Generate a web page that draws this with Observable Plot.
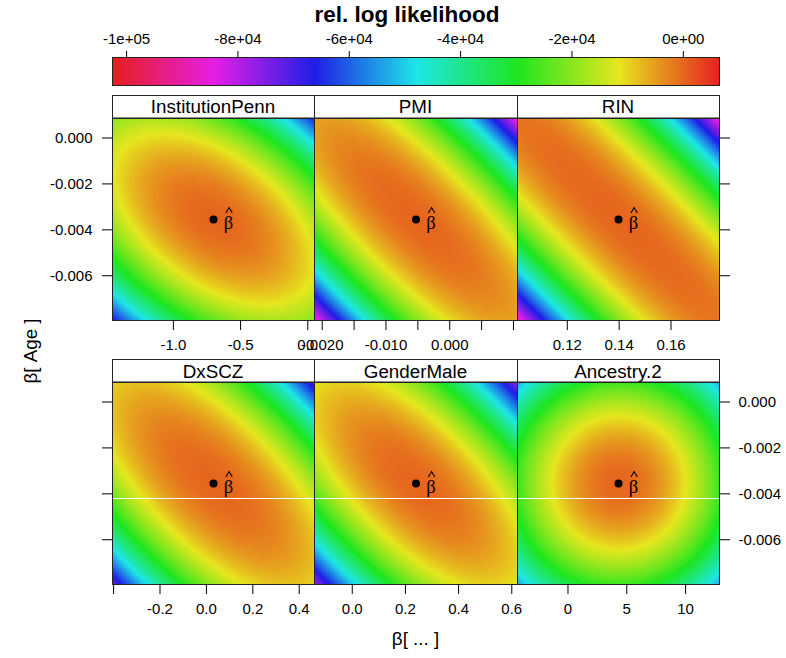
<!DOCTYPE html>
<html>
<head>
<meta charset="utf-8">
<script src="https://cdn.jsdelivr.net/npm/d3@7"></script>
<script src="https://cdn.jsdelivr.net/npm/@observablehq/plot@0.6"></script>
<style>
  html, body { margin: 0; padding: 0; background: #fff; }
  #chart { position: relative; width: 786px; height: 658px; overflow: hidden;
           font-family: "Liberation Sans", Arial, sans-serif; background: #fff; }
  #chart > svg { position: absolute; }
</style>
</head>
<body>
<div id="chart"></div>
<script>
// ---------------- data ----------------
const panelNames = ["InstitutionPenn", "PMI", "RIN", "DxSCZ", "GenderMale", "Ancestry.2"];
// estimate of each coefficient (x position of beta-hat)
const estX = [-0.7015, -0.00529, 0.13975, 0.03055, 0.23975, 4.295];
// estimate of beta[Age] (y position of beta-hat)
const estAge = -0.00355;
// x range of each panel
const xMin = [-1.453, -0.02121, 0.1008, -0.4047, -0.142, -4.29];
const xMax = [0.050, 0.01063, 0.1787, 0.4658, 0.6215, 12.88];
// y range shared by all panels
const yMin = -0.00795;
const yMax = 0.00085;
// shape of the relative log likelihood surface in each panel, read from the
// colour bands (u, v = offsets from beta-hat in units of the panel half-ranges):
// rel.logLik = -lvlScale * (cXX*u^2 + 2*cXY*u*v + cYY*v^2) ^ power
const lvlScale = 11675;
const curvXX = [1.408, 1.733, 1.7125, 1.5175, 1.736, 2.30];
const curvXY = [0.842, 1.467, 1.6375, 1.0825, 1.236, 0.0];
const curvYY = [1.924, 1.733, 1.7125, 1.5175, 1.736, 2.30];
const curvPower = [1.08, 1.085, 1.066, 1.107, 1.06, 1.0];
// tick values and labels
const xTicks = [
  [-1, -0.5, 0],
  [-0.02, -0.015, -0.01, -0.005, 0, 0.005, 0.01],
  [0.12, 0.14, 0.16],
  [-0.4, -0.2, 0, 0.2, 0.4],
  [0, 0.2, 0.4, 0.6],
  [0, 5, 10]
];
const xTickLabels = [
  ["-1.0", "-0.5", "0.0"],
  ["-0.020", "", "-0.010", "", "0.000", "", ""],
  ["0.12", "0.14", "0.16"],
  ["", "-0.2", "0.0", "0.2", "0.4"],
  ["0.0", "0.2", "0.4", "0.6"],
  ["0", "5", "10"]
];
const yTicks = [0, -0.002, -0.004, -0.006];
const yTickLabels = ["0.000", "-0.002", "-0.004", "-0.006"];
const colorDomain = [-102530, 6500];
const colorTicks = [-100000, -80000, -60000, -40000, -20000, 0];
const colorTickLabels = ["-1e+05", "-8e+04", "-6e+04", "-4e+04", "-2e+04", "0e+00"];
// thin white line visible across the lower row of panels
const artifactY = -0.004203;
const titleText = "rel. log likelihood";
const xTitle = "β[ ... ]";
const yTitle = "β[ Age ]";
const estLabel = "β";

// ---------------- layout ----------------
const FONT = '"Liberation Sans", Arial, sans-serif';
const SERIF = '"Liberation Serif", "DejaVu Serif", serif';
const colEdges = [112, 314, 517, 719];
const rowTop = [118, 382];
const stripTop = [95.5, 359.5];
const stripBase = [113.3, 378];
const panelH = 202;

function hueColor(t) {
  const h = (1 - t) * 360;
  const v = 0.9, s = 0.87, c = v * s, m = v - c;
  const hp = (((h % 360) + 360) % 360) / 60;
  const x = c * (1 - Math.abs((hp % 2) - 1));
  const k = Math.floor(hp) % 6;
  const [r, g, b] = [[c, x, 0], [x, c, 0], [0, c, x], [0, x, c], [x, 0, c], [c, 0, x]][k];
  return `rgb(${Math.round((r + m) * 255)},${Math.round((g + m) * 255)},${Math.round((b + m) * 255)})`;
}
const colorOpts = {type: "linear", domain: colorDomain, interpolate: hueColor, clamp: true};
const baseStyle = {background: "none", overflow: "visible", maxWidth: "none", fontFamily: FONT, fontSize: "15px", color: "black"};
// circumflex accent drawn as a small symbol above the beta
const hatSymbol = {
  draw(ctx) {
    ctx.moveTo(-3.2, 2.8);
    ctx.lineTo(0, -2.8);
    ctx.lineTo(3.2, 2.8);
  }
};

const chart = document.getElementById("chart");

// ---------- colour key ----------
{
  const mL = colEdges[0], mR = 786 - colEdges[3];
  const key = Plot.plot({
    width: 786, height: 85,
    marginLeft: mL, marginRight: mR, marginTop: 57, marginBottom: 0,
    x: {domain: colorDomain, axis: null, label: null},
    y: {domain: [0, 1], axis: null, label: null},
    color: colorOpts,
    style: baseStyle,
    marks: [
      Plot.raster({fill: (x, y) => x, x1: colorDomain[0], x2: colorDomain[1], y1: 0, y2: 1,
                   width: 607, height: 1, imageRendering: "pixelated"}),
      Plot.frame({stroke: "#222"}),
      Plot.axisX({anchor: "top", ticks: colorTicks,
                  tickFormat: d => colorTickLabels[colorTicks.indexOf(d)] ?? "",
                  tickSize: 7, tickPadding: 7, fontSize: 15, label: null})
    ]
  });
  key.style.left = "0px"; key.style.top = "0px";
  chart.appendChild(key);
}

// ---------- panels ----------
panelNames.forEach((name, i) => {
  const col = i % 3, row = Math.floor(i / 3);
  const w = colEdges[col + 1] - colEdges[col];
  const mL = 70, mR = 75, mT = 2, mB = 45;
  const hx = (xMax[i] - xMin[i]) / 2, hy = (yMax - yMin) / 2;
  const surface = (x, y) => {
    const u = (x - estX[i]) / hx, v = (y - estAge) / hy;
    const q = curvXX[i] * u * u + 2 * curvXY[i] * u * v + curvYY[i] * v * v;
    return -lvlScale * Math.pow(q, curvPower[i]);
  };
  const fmtX = d => xTickLabels[i][xTicks[i].indexOf(d)] ?? "";
  const fmtY = d => yTickLabels[yTicks.indexOf(d)] ?? "";
  const est = [{x: estX[i], y: estAge}];
  const marks = [
    Plot.raster({fill: surface, x1: xMin[i], x2: xMax[i], y1: yMin, y2: yMax,
                 width: 101, height: 101, imageRendering: "pixelated"})
  ];
  if (row === 1) marks.push(Plot.ruleY([artifactY], {stroke: "white", strokeWidth: 1}));
  marks.push(Plot.frame({stroke: "#222"}));
  marks.push(Plot.axisX({anchor: "bottom", ticks: xTicks[i], tickFormat: fmtX,
                         tickSize: 10, tickPadding: 9, fontSize: 15, label: null}));
  if (col === 0) marks.push(Plot.axisY({anchor: "left", ticks: yTicks,
                         tickFormat: row === 0 ? fmtY : () => "",
                         tickSize: 10, tickPadding: 10, fontSize: 15, label: null}));
  if (col === 2) marks.push(Plot.axisY({anchor: "right", ticks: yTicks,
                         tickFormat: row === 1 ? fmtY : () => "",
                         tickSize: 10, tickPadding: 9, fontSize: 15, label: null}));
  marks.push(Plot.dot(est, {x: "x", y: "y", r: 4, fill: "black", stroke: "none"}));
  marks.push(Plot.text(est, {x: "x", y: "y", text: () => estLabel, dx: 15, dy: 9.6,
                             lineAnchor: "bottom", textAnchor: "middle",
                             fontFamily: SERIF, fontSize: 18.5}));
  marks.push(Plot.dot(est, {x: "x", y: "y", r: 3, symbol: hatSymbol, fill: "none",
                            stroke: "black", strokeWidth: 1.1, dx: 15.6, dy: -9.2}));
  const p = Plot.plot({
    width: w + mL + mR, height: panelH + mT + mB,
    marginLeft: mL, marginRight: mR, marginTop: mT, marginBottom: mB,
    x: {domain: [xMin[i], xMax[i]], axis: null, label: null},
    y: {domain: [yMin, yMax], axis: null, label: null},
    color: colorOpts,
    style: baseStyle,
    marks
  });
  p.style.left = (colEdges[col] - mL) + "px";
  p.style.top = (rowTop[row] - mT) + "px";
  chart.appendChild(p);
});

// ---------- strips, titles ----------
const svg = d3.create("svg")
  .attr("width", 786).attr("height", 658)
  .style("left", "0px").style("top", "0px")
  .style("font-family", FONT)
  .style("pointer-events", "none");

svg.append("text")
  .attr("x", 407).attr("y", 22)
  .attr("text-anchor", "middle")
  .attr("font-weight", "bold").attr("font-size", 22.5)
  .text(titleText);

panelNames.forEach((name, i) => {
  const col = i % 3, row = Math.floor(i / 3);
  svg.append("rect")
    .attr("x", colEdges[col] + 0.5).attr("y", stripTop[row])
    .attr("width", colEdges[col + 1] - colEdges[col]).attr("height", rowTop[row] - stripTop[row])
    .attr("fill", "white").attr("stroke", "#222").attr("stroke-width", 1);
  svg.append("text")
    .attr("x", (colEdges[col] + colEdges[col + 1]) / 2).attr("y", stripBase[row])
    .attr("text-anchor", "middle").attr("font-size", 18.8)
    .text(name);
});

svg.append("text")
  .attr("x", 415.5).attr("y", 645)
  .attr("text-anchor", "middle").attr("font-size", 18.8)
  .text(xTitle);

svg.append("text")
  .attr("transform", "translate(37,351) rotate(-90)")
  .attr("text-anchor", "middle").attr("font-size", 18.8)
  .text(yTitle);

chart.appendChild(svg.node());
</script>
</body>
</html>
